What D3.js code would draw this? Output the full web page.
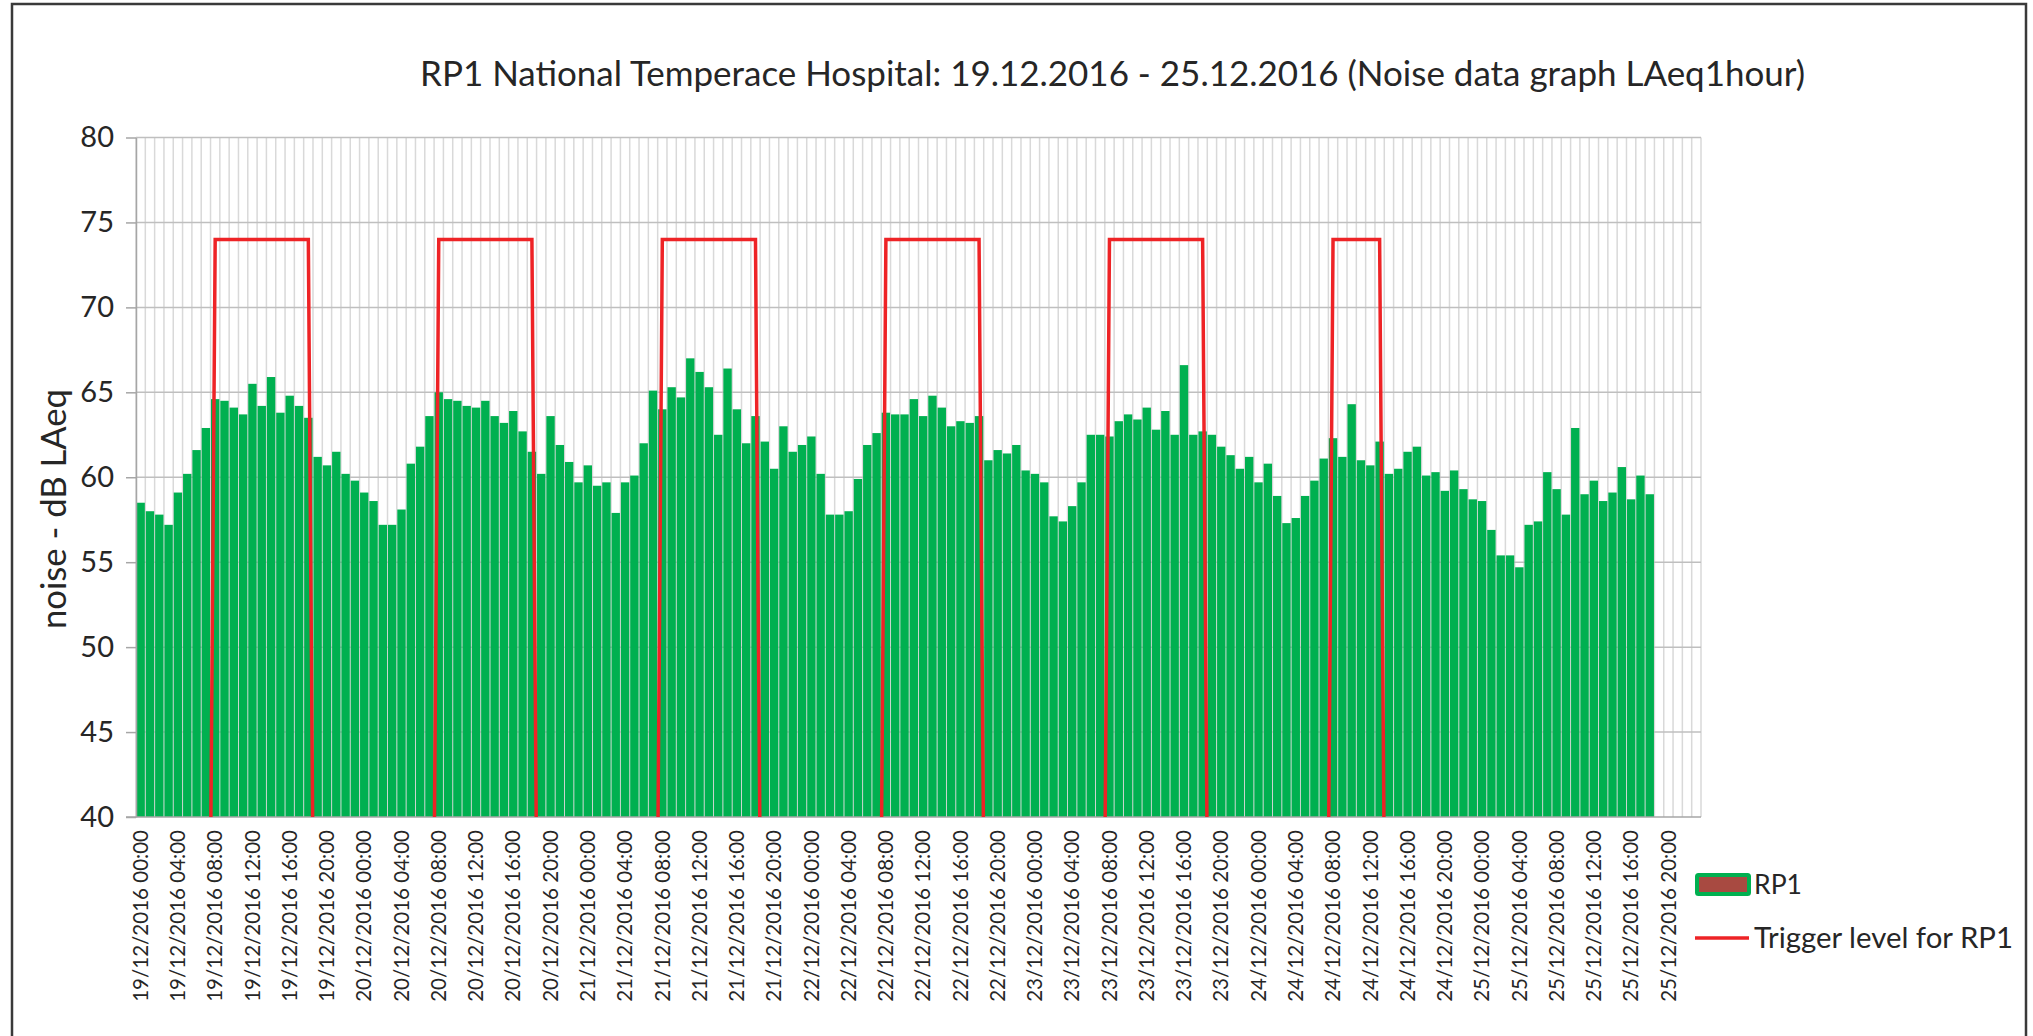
<!DOCTYPE html>
<html>
<head>
<meta charset="utf-8">
<script src="https://cdn.jsdelivr.net/npm/d3@7"></script>
<style>
html, body { margin: 0; padding: 0; background: #fff; }
svg { display: block; font-family: Lato, "Open Sans", sans-serif; }
</style>
</head>
<body>
<svg width="2033" height="1036"></svg>
<script>
// RP1 noise data, hourly LAeq

const days = ['19/12/2016', '20/12/2016', '21/12/2016', '22/12/2016', '23/12/2016', '24/12/2016', '25/12/2016'];
const hours = ['00:00', '01:00', '02:00', '03:00', '04:00', '05:00', '06:00', '07:00',
               '08:00', '09:00', '10:00', '11:00', '12:00', '13:00', '14:00', '15:00',
               '16:00', '17:00', '18:00', '19:00', '20:00', '21:00', '22:00', '23:00'];

// one value per hour from 19/12 00:00 to 25/12 18:00
const rp1 = [
    58.5, 58.0, 57.8, 57.2, 59.1, 60.2, 61.6, 62.9, 64.6, 64.5, 64.1, 63.7, 65.5, 64.2, 65.9, 63.8, 64.8, 64.2, 63.5, 61.2, 60.7, 61.5, 60.2, 59.8,
    59.1, 58.6, 57.2, 57.2, 58.1, 60.8, 61.8, 63.6, 65.0, 64.6, 64.5, 64.2, 64.1, 64.5, 63.6, 63.2, 63.9, 62.7, 61.5, 60.2, 63.6, 61.9, 60.9, 59.7,
    60.7, 59.5, 59.7, 57.9, 59.7, 60.1, 62.0, 65.1, 64.0, 65.3, 64.7, 67.0, 66.2, 65.3, 62.5, 66.4, 64.0, 62.0, 63.6, 62.1, 60.5, 63.0, 61.5, 61.9,
    62.4, 60.2, 57.8, 57.8, 58.0, 59.9, 61.9, 62.6, 63.8, 63.7, 63.7, 64.6, 63.6, 64.8, 64.1, 63.0, 63.3, 63.2, 63.6, 61.0, 61.6, 61.4, 61.9, 60.4,
    60.2, 59.7, 57.7, 57.4, 58.3, 59.7, 62.5, 62.5, 62.4, 63.3, 63.7, 63.4, 64.1, 62.8, 63.9, 62.5, 66.6, 62.5, 62.7, 62.5, 61.8, 61.3, 60.5, 61.2,
    59.7, 60.8, 58.9, 57.3, 57.6, 58.9, 59.8, 61.1, 62.3, 61.2, 64.3, 61.0, 60.7, 62.1, 60.2, 60.5, 61.5, 61.8, 60.1, 60.3, 59.2, 60.4, 59.3, 58.7,
    58.6, 56.9, 55.4, 55.4, 54.7, 57.2, 57.4, 60.3, 59.3, 57.8, 62.9, 59.0, 59.8, 58.6, 59.1, 60.6, 58.7, 60.1, 59.0
];

// trigger level 74 dB during these hours (first, last) per day, 0 otherwise
const triggerLevel = 74;
const triggerHours = [[8, 18], [8, 18], [8, 18], [8, 18], [8, 18], [8, 13], null];

const yTicks = [40, 45, 50, 55, 60, 65, 70, 75, 80];
const title = 'RP1 National Temperace Hospital: 19.12.2016 - 25.12.2016 (Noise data graph LAeq1hour)';
const yTitle = 'noise - dB LAeq';
const legendNames = ['RP1', 'Trigger level for RP1'];

const categories = [];
days.forEach(d => hours.forEach(h => categories.push(d + ' ' + h)));

const trigger = [];
days.forEach(function(d, di) {
    hours.forEach(function(h, hi) {
        var w = triggerHours[di];
        trigger.push(w && hi >= w[0] && hi <= w[1] ? triggerLevel : 0);
    });
});

const plot = {left: 136, right: 1701, top: 137.5, bottom: 817};
const svg = d3.select('svg');

const x = d3.scaleBand()
    .domain(categories)
    .range([plot.left, plot.right])
    .paddingInner(0.1)
    .paddingOuter(0.05);
const xEdge = d3.scaleLinear().domain([0, categories.length]).range([plot.left, plot.right]);
const y = d3.scaleLinear().domain([40, 80]).range([plot.bottom, plot.top]);

function fit(sel, width) {
    var fs = parseFloat(sel.attr('font-size'));
    var w = sel.node().getComputedTextLength();
    sel.attr('font-size', fs * width / w);
    return fs * width / w;
}

// border
svg.append('path')
    .attr('d', 'M12,1040 V4 H2026 V1040')
    .attr('fill', 'none')
    .attr('stroke', '#3a3a3a')
    .attr('stroke-width', 2.5);

// title
const titleText = svg.append('text')
    .attr('x', 420)
    .attr('y', 86)
    .attr('font-size', 32)
    .attr('fill', '#262626')
    .text(title);
fit(titleText, 1386);

// vertical gridlines
svg.append('g')
    .selectAll('line')
    .data(d3.range(categories.length + 1))
    .join('line')
    .attr('x1', d => xEdge(d))
    .attr('x2', d => xEdge(d))
    .attr('y1', plot.top)
    .attr('y2', plot.bottom)
    .attr('stroke', '#d9d9d9')
    .attr('stroke-width', 1.5);

// horizontal gridlines
svg.append('g')
    .selectAll('line')
    .data(yTicks.slice(1))
    .join('line')
    .attr('x1', plot.left)
    .attr('x2', plot.right)
    .attr('y1', d => y(d))
    .attr('y2', d => y(d))
    .attr('stroke', '#bfbfbf')
    .attr('stroke-width', 1.5);

// bars
svg.append('g')
    .selectAll('rect')
    .data(rp1)
    .join('rect')
    .attr('x', (d, i) => x(categories[i]))
    .attr('width', x.bandwidth())
    .attr('y', d => y(d))
    .attr('height', d => y(40) - y(d))
    .attr('fill', '#00b050');

// y axis
const yAxis = svg.append('g')
    .attr('transform', 'translate(' + plot.left + ',0)')
    .call(d3.axisLeft(y).tickValues(yTicks).tickSize(10).tickPadding(12).tickSizeOuter(0));
yAxis.select('.domain').attr('stroke', '#a6a6a6').attr('stroke-width', 1.5);
yAxis.selectAll('.tick line').attr('stroke', '#a6a6a6').attr('stroke-width', 1.5);
yAxis.selectAll('.tick text')
    .attr('font-size', 29)
    .attr('font-family', 'Lato, "Open Sans", sans-serif')
    .attr('fill', '#262626');

// x axis line
svg.append('line')
    .attr('x1', plot.left - 10)
    .attr('x2', plot.right)
    .attr('y1', plot.bottom)
    .attr('y2', plot.bottom)
    .attr('stroke', '#a6a6a6')
    .attr('stroke-width', 1.5);

// x labels every 4 hours
const xLabels = svg.append('g')
    .selectAll('text')
    .data(categories.filter((d, i) => i % 4 === 0))
    .join('text')
    .attr('transform', d => 'translate(' + (x(d) + x.bandwidth() / 2) + ',830) rotate(-90)')
    .attr('text-anchor', 'end')
    .attr('dy', '0.35em')
    .attr('font-size', 24)
    .attr('fill', '#262626')
    .text(d => d);
const xfs = fit(d3.select(xLabels.node()), 172);
xLabels.attr('font-size', xfs);

// y title
const yTitleText = svg.append('text')
    .attr('transform', 'translate(54,509) rotate(-90)')
    .attr('text-anchor', 'middle')
    .attr('dy', '0.35em')
    .attr('font-size', 30)
    .attr('fill', '#262626')
    .text(yTitle);
fit(yTitleText, 240);

// trigger line
svg.append('clipPath')
    .attr('id', 'plot-clip')
    .append('rect')
    .attr('x', plot.left)
    .attr('y', plot.top)
    .attr('width', plot.right - plot.left)
    .attr('height', plot.bottom - plot.top);

const line = d3.line()
    .x((d, i) => x(categories[i]) + x.bandwidth() / 2)
    .y(d => y(d));

svg.append('path')
    .datum(trigger)
    .attr('clip-path', 'url(#plot-clip)')
    .attr('d', line)
    .attr('fill', 'none')
    .attr('stroke', '#ee2326')
    .attr('stroke-width', 3.5)
    .attr('stroke-linejoin', 'miter');

// legend
const legend = svg.append('g');
legend.append('rect')
    .attr('x', 1697)
    .attr('y', 875)
    .attr('width', 52)
    .attr('height', 19)
    .attr('fill', '#a84a41')
    .attr('stroke', '#00b050')
    .attr('stroke-width', 4)
    .attr('rx', 1.5);
legend.append('line')
    .attr('x1', 1695)
    .attr('x2', 1749)
    .attr('y1', 938)
    .attr('y2', 938)
    .attr('stroke', '#ee2326')
    .attr('stroke-width', 3.5);
const lg1 = legend.append('text')
    .attr('x', 1754)
    .attr('y', 894)
    .attr('font-size', 28)
    .attr('fill', '#262626')
    .text(legendNames[0]);
fit(lg1, 48);
const lg2 = legend.append('text')
    .attr('x', 1754)
    .attr('y', 948)
    .attr('font-size', 28)
    .attr('fill', '#262626')
    .text(legendNames[1]);
fit(lg2, 259);
</script>
</body>
</html>
